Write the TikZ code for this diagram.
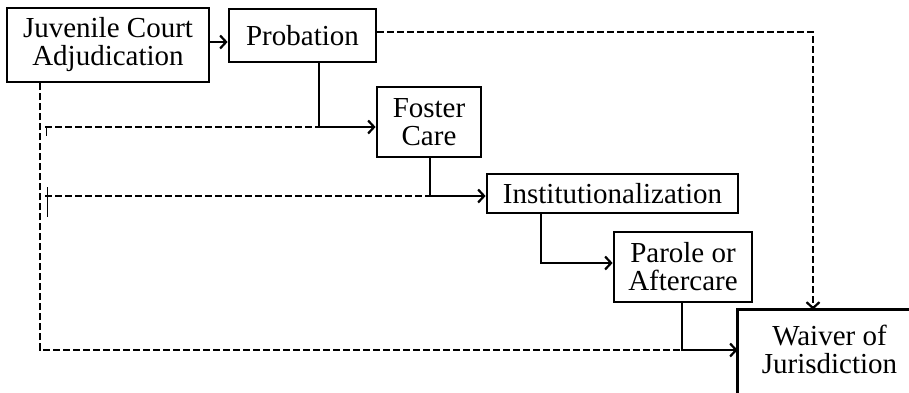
\documentclass[tikz,border=0pt]{standalone}
\usepackage{fontspec}
\setmainfont{Liberation Serif}
\usetikzlibrary{arrows.meta}
\begin{document}
\begin{tikzpicture}[x=1pt,y=-1pt,
  box/.style={draw, line width=2.8pt, inner sep=0pt, align=center, font=\fontsize{29}{28}\selectfont},
  boxline/.style={line width=2.8pt},
  tip/.style={-{Straight Barb[length=6pt,width=13pt,line width=2.2pt]}},
  sline/.style={line width=2.3pt},
  dline/.style={line width=2.2pt, dash pattern=on 7pt off 3pt}]
\clip (0,0) rectangle (909,392);
\node[box, minimum width=202, minimum height=74] (J) at (108,45) {Juvenile Court\\Adjudication};
\node[box, minimum width=147, minimum height=53] (P) at (302.5,35.5) {Probation};
\node[box, minimum width=104, minimum height=70] (F) at (429,122) {Foster\\Care};
\node[box, minimum width=251, minimum height=39] (I) at (612.5,193.5) {Institutionalization};
\node[box, minimum width=138, minimum height=70] (Pa) at (683,267) {Parole or\\Aftercare};
\node[box, draw=none, minimum width=181, minimum height=77] (W) at (829.5,349.5) {Waiver of\\Jurisdiction};
\draw[boxline] (W.north west |- 0,400) -- (W.north west) -- (W.north east);
% solid connectors
\draw[sline,tip] (J.east |- 0,42) -- (P.west |- 0,42);
\draw[sline,tip] (P.south -| 319,0) -- (319,127) -- (F.west |- 0,127);
\draw[sline,tip] (F.south -| 430,0) -- (430,196) -- (I.west |- 0,196);
\draw[sline,tip] (I.south -| 541,0) -- (541,263) -- (Pa.west |- 0,263);
\draw[sline,tip] (Pa.south -| 682,0) -- (682,350) -- (W.west |- 0,350);
% dashed connectors
\draw[dline] (J.south -| 40,0) -- (40,350) -- (682,350);
\draw[dline] (45,127) -- (319,127);
\draw[dline] (45,196) -- (430,196);
\draw[dline,tip] (P.east |- 0,32) -- (813,32) -- (W.north -| 813,0);
\draw[line width=1pt] (46,128) -- (46,136);
\draw[line width=1pt] (47,187) -- (47,217);
\end{tikzpicture}
\end{document}
